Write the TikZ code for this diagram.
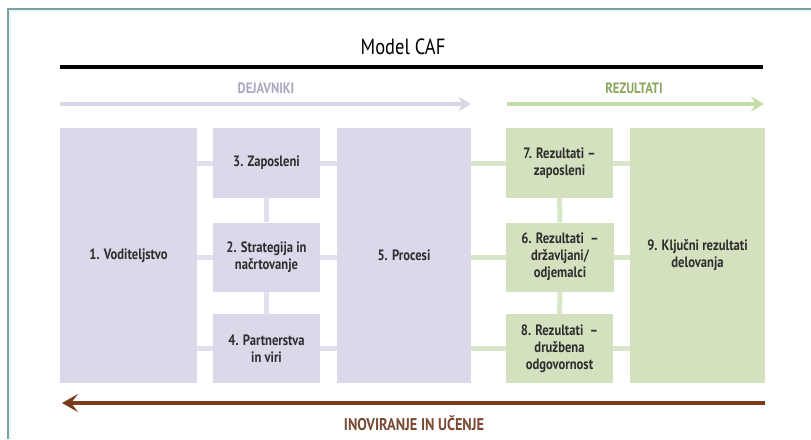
\documentclass[tikz,border=0pt]{standalone}
\usepackage{fontspec}
\setmainfont{PT Sans}[FakeStretch=0.84]
\usetikzlibrary{arrows.meta}
\definecolor{lav}{HTML}{DDD7EA}
\definecolor{lavc}{HTML}{E3DFEE}
\definecolor{lavarrow}{HTML}{DAD6E6}
\definecolor{lavtext}{HTML}{ADA6BE}
\definecolor{grn}{HTML}{D3E1BF}
\definecolor{grnc}{HTML}{D9E6C9}
\definecolor{grnarrow}{HTML}{C6DBAA}
\definecolor{grntext}{HTML}{88A65C}
\definecolor{brn}{HTML}{7A3C1C}
\definecolor{brntext}{HTML}{7A4A33}
\definecolor{frame}{HTML}{7F9F9F}
\definecolor{boxtext}{HTML}{2E2E2E}
\tikzset{
  cell/.style={inner sep=0pt, align=center, text=boxtext,
    font=\bfseries\fontsize{15}{17}\selectfont},
  lavbox/.style={cell, fill=lav},
  grnbox/.style={cell, fill=grn},
  lavconn/.style={draw=lavc, line width=5pt},
  grnconn/.style={draw=grnc, line width=5pt},
  headlabel/.style={inner sep=0pt, font=\bfseries\fontsize{15}{17}\selectfont},
}
\begin{document}
\begin{tikzpicture}[x=1pt,y=-1pt]
\useasboundingbox (0,0) rectangle (811,439);
\fill[white] (0,0) rectangle (811,439);
% frame
\draw[frame, line width=1.3pt] (8,439) -- (8,9) -- (811,9);
\draw[cyan!10, line width=1.5pt] (10,439) -- (10,11) -- (811,11);

% title
\node[inner sep=0pt, font=\fontsize{22}{24}\selectfont] (title) at (403,47) {Model CAF};
\coordinate (tl) at (60,67);
\coordinate (tr) at (763,67);
\draw[black, line width=4pt] (tl) -- (tr);

% headers
\node[headlabel, text=lavtext] (dej) at (266,88) {DEJAVNIKI};
\coordinate (dl) at (60,104);
\coordinate (dr) at (471,104);
\draw[lavarrow, line width=4pt, -{Stealth[length=13pt,width=15pt,inset=5pt]}] (dl) -- (dr);

\node[headlabel, text=grntext] (rez) at (634,88) {REZULTATI};
\coordinate (rl) at (507,104);
\coordinate (rr) at (764,104);
\draw[grnarrow, line width=4pt, -{Stealth[length=13pt,width=15pt,inset=5pt]}] (rl) -- (rr);

% boxes (enablers)
\node[lavbox, minimum width=137pt, minimum height=255pt] (b1) at (128.5,255.5) {1. Voditeljstvo};
\node[lavbox, minimum width=107pt, minimum height=70pt] (b3) at (266.5,163) {3. Zaposleni};
\node[lavbox, minimum width=107pt, minimum height=69pt] (b2) at (266.5,257) {2. Strategija in\\načrtovanje};
\node[lavbox, minimum width=107pt, minimum height=69pt] (b4) at (266.5,348.5) {4. Partnerstva\\in viri};
\node[lavbox, minimum width=134pt, minimum height=255pt] (b5) at (404,255.5) {5. Procesi};

% boxes (results)
\node[grnbox, minimum width=107pt, minimum height=70pt] (b7) at (559.5,163) {7. Rezultati –\\zaposleni};
\node[grnbox, minimum width=108pt, minimum height=69pt] (b6) at (560,257) {6. Rezultati \ –\\državljani/\\odjemalci};
\node[grnbox, minimum width=107pt, minimum height=69pt] (b8) at (559.5,348.5) {8. Rezultati \ –\\družbena\\odgovornost};
\node[grnbox, minimum width=135pt, minimum height=255pt] (b9) at (697.5,255.5) {9. Ključni rezultati\\delovanja};

% connectors (enablers)
\draw[lavconn] (b1.east |- b3.west) -- (b3.west);
\draw[lavconn] (b1.east |- b2.west) -- (b2.west);
\draw[lavconn] (b1.east |- b4.west) -- (b4.west);
\draw[lavconn] (b3.east) -- (b5.west |- b3.east);
\draw[lavconn] (b2.east) -- (b5.west |- b2.east);
\draw[lavconn] (b4.east) -- (b5.west |- b4.east);
\draw[lavconn] (b3.south) -- (b2.north);
\draw[lavconn] (b2.south) -- (b4.north);
% connectors (results)
\draw[grnconn] (b5.east |- b7.west) -- (b7.west);
\draw[grnconn] (b5.east |- b6.west) -- (b6.west);
\draw[grnconn] (b5.east |- b8.west) -- (b8.west);
\draw[grnconn] (b7.east) -- (b9.west |- b7.east);
\draw[grnconn] (b6.east) -- (b9.west |- b6.east);
\draw[grnconn] (b8.east) -- (b9.west |- b8.east);
\draw[grnconn] (b7.south) -- (b6.north);
\draw[grnconn] (b6.south) -- (b8.north);

% bottom arrow
\coordinate (br) at (765,403);
\coordinate (bl) at (62,403);
\draw[brn, line width=4.5pt, -{Stealth[length=16pt,width=18pt,inset=7pt]}] (br) -- (bl);
\node[headlabel, text=brntext, font=\bfseries\fontsize{17}{19}\selectfont] (ino) at (414,423) {INOVIRANJE IN UČENJE};
\end{tikzpicture}
\end{document}
